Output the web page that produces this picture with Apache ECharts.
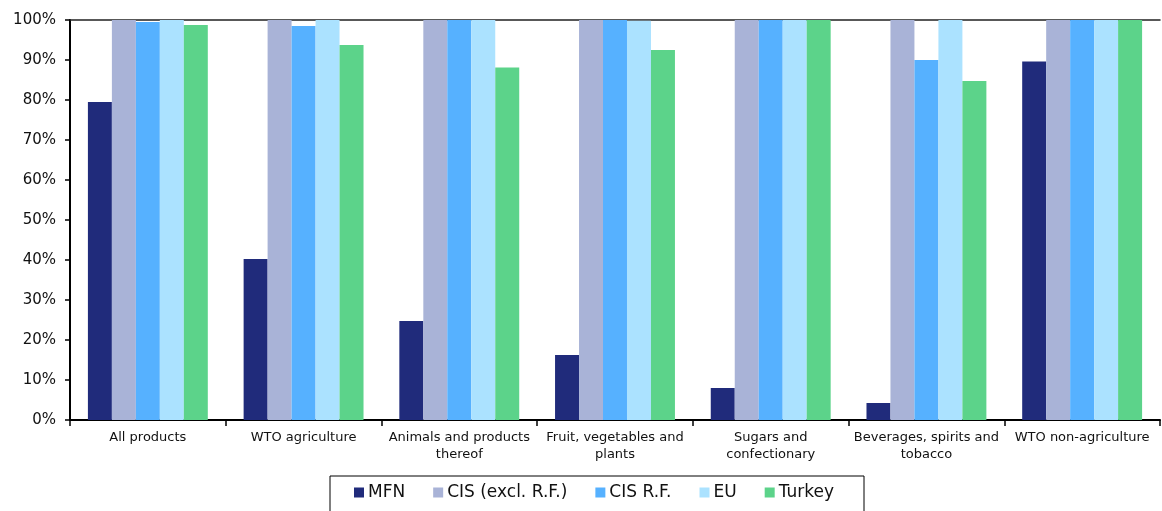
<!DOCTYPE html>
<html>
<head>
<meta charset="utf-8">
<script src="https://cdn.jsdelivr.net/npm/echarts@6/dist/echarts.min.js"></script>
<style>
  html, body { margin: 0; padding: 0; background: #fff; }
  #chart { width: 1162px; height: 511px; }
</style>
</head>
<body>
<div id="chart"></div>
<script>
// Product groups along the horizontal axis
const categories = [
  'All products',
  'WTO agriculture',
  'Animals and products\nthereof',
  'Fruit, vegetables and\nplants',
  'Sugars and\nconfectionary',
  'Beverages, spirits and\ntobacco',
  'WTO non-agriculture'
];

// Share of tariff lines duty-free, in percent
const mfn       = [79.5, 40.25, 24.75, 16.25, 8.0, 4.25, 89.6];
const cisExclRF = [100, 100, 100, 100, 100, 100, 100];
const cisRF     = [99.5, 98.5, 100, 100, 100, 90.0, 100];
const eu        = [100, 100, 100, 99.8, 100, 100, 100];
const turkey    = [98.75, 93.75, 88.1, 92.5, 100, 84.75, 100];

const seriesNames  = ['MFN', 'CIS (excl. R.F.)', 'CIS R.F.', 'EU', 'Turkey'];
const seriesData   = [mfn, cisExclRF, cisRF, eu, turkey];
const seriesColors = ['#202B7B', '#A9B3D7', '#56B1FF', '#ABE2FF', '#5CD38A'];

const yTicks = [0, 10, 20, 30, 40, 50, 60, 70, 80, 90, 100];

const FONT = '"DejaVu Sans", Verdana, sans-serif';

const chart = echarts.init(document.getElementById('chart'));
chart.setOption({
  animation: false,
  textStyle: { fontFamily: FONT },
  grid: { left: 70, right: 2, top: 20, bottom: 91 },
  legend: {
    data: seriesNames,
    left: 330,
    top: 476,
    padding: [8, 30, 12, 24],
    itemGap: 28,
    itemWidth: 10,
    itemHeight: 10,
    icon: 'rect',
    borderColor: '#000',
    borderWidth: 1,
    textStyle: { fontFamily: FONT, fontSize: 17, color: '#111', padding: [0, 0, 0, -1] }
  },
  xAxis: [
    {
      type: 'category',
      data: categories,
      axisLine: { lineStyle: { color: '#000', width: 2 } },
      axisTick: { show: true, length: 6, lineStyle: { color: '#000', width: 1.5 } },
      axisLabel: {
        interval: 0,
        color: '#111',
        fontSize: 13,
        lineHeight: 17,
        margin: 9,
        fontFamily: FONT
      }
    },
    {
      type: 'category',
      data: categories,
      position: 'top',
      axisLine: { lineStyle: { color: '#222', width: 1.5 } },
      axisTick: { show: false },
      axisLabel: { show: false }
    }
  ],
  yAxis: {
    type: 'value',
    min: yTicks[0],
    max: yTicks[yTicks.length - 1],
    interval: 10,
    axisLine: { show: true, lineStyle: { color: '#000', width: 2 } },
    axisTick: { show: true, length: 5, lineStyle: { color: '#000', width: 1.5 } },
    splitLine: { show: false },
    axisLabel: {
      color: '#111',
      fontSize: 15,
      margin: 14,
      fontFamily: FONT,
      formatter: v => v + '%'
    }
  },
  series: seriesNames.map((name, i) => ({
    name,
    type: 'bar',
    data: seriesData[i],
    barGap: '0%',
    barCategoryGap: '23%',
    itemStyle: { color: seriesColors[i] }
  }))
});
</script>
</body>
</html>
